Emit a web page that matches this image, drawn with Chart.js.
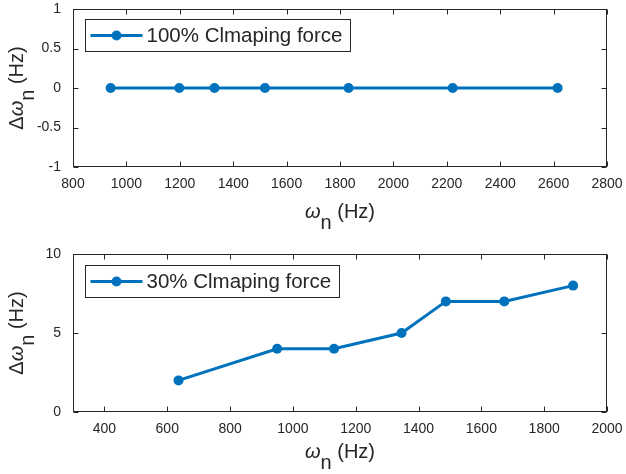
<!DOCTYPE html>
<html>
<head>
<meta charset="utf-8">
<script src="https://cdn.jsdelivr.net/npm/chart.js@4/dist/chart.umd.min.js"></script>
<style>
  body { margin: 0; background: #fff; }
  canvas { position: absolute; left: 0; }
</style>
</head>
<body>
<canvas id="chart" width="626" height="237" style="top:0"></canvas>
<canvas id="chart2" width="626" height="237" style="top:237px"></canvas>
<script>
// measured natural frequencies and their shift
var fullFreq = [941, 1198, 1330, 1519, 1832, 2222, 2615];
var fullShift = [0, 0, 0, 0, 0, 0, 0];
var fullLabel = "100% Clmaping force";
var fullXTicks = [800, 1000, 1200, 1400, 1600, 1800, 2000, 2200, 2400, 2600, 2800];
var fullYTicks = [-1, -0.5, 0, 0.5, 1];

var lowFreq = [636, 950, 1131, 1346, 1487, 1673, 1892];
var lowShift = [2, 4, 4, 5, 7, 7, 8];
var lowLabel = "30% Clmaping force";
var lowXTicks = [400, 600, 800, 1000, 1200, 1400, 1600, 1800, 2000];
var lowYTicks = [0, 5, 10];

var FONT = "'Liberation Sans', Arial, Helvetica, sans-serif";
var INK = "#262626";
var BLUE = "#0072BD";

// frame + inward ticks on every side
var boxPlugin = {
  id: "box",
  beforeDatasetsDraw: function (chart) {
    var a = chart.chartArea, c = chart.ctx;
    var sx = chart.scales.x, sy = chart.scales.y;
    var L = Math.round(a.left) + 0.5, R = Math.round(a.right) - 0.5;
    var T = Math.round(a.top) + 0.5, B = Math.round(a.bottom) - 0.5;
    c.save();
    c.strokeStyle = INK;
    c.lineWidth = 1;
    c.strokeRect(L, T, R - L, B - T);
    c.beginPath();
    sx.ticks.forEach(function (t) {
      var px = Math.round(sx.getPixelForValue(t.value)) + 0.5;
      c.moveTo(px, B); c.lineTo(px, B - 5);
      c.moveTo(px, T); c.lineTo(px, T + 5);
    });
    sy.ticks.forEach(function (t) {
      var py = Math.round(sy.getPixelForValue(t.value)) + 0.5;
      c.moveTo(L, py); c.lineTo(L + 5, py);
      c.moveTo(R, py); c.lineTo(R - 5, py);
    });
    c.stroke();
    c.restore();
  }
};

// text pieces with italic / subscript
function drawParts(c, parts, size) {
  var total = 0;
  parts.forEach(function (p) {
    p.font = (p.italic ? "italic " : "") + size + "px " + FONT;
    c.font = p.font;
    p.w = c.measureText(p.t).width;
    total += p.w;
  });
  var x = -total / 2;
  c.fillStyle = INK;
  c.textBaseline = "alphabetic";
  c.textAlign = "left";
  parts.forEach(function (p) {
    c.font = p.font;
    c.fillText(p.t, x, p.sub ? size * 0.55 : 0);
    x += p.w;
  });
}

var titlePlugin = {
  id: "titles",
  afterDraw: function (chart, args, opts) {
    var a = chart.chartArea, c = chart.ctx;
    c.save();
    c.translate((a.left + a.right) / 2, a.bottom + opts.xOffset);
    drawParts(c, [{ t: "ω", italic: true }, { t: "n", sub: true }, { t: " (Hz)" }], 20);
    c.restore();
    c.save();
    c.translate(23, (a.top + a.bottom) / 2);
    c.rotate(-Math.PI / 2);
    drawParts(c, [{ t: "Δ" }, { t: "ω", italic: true }, { t: "n", sub: true }, { t: " (Hz)" }], 20);
    c.restore();
  }
};

// legend box in the upper-left corner of the axes
var legendPlugin = {
  id: "boxLegend",
  afterDraw: function (chart, args, opts) {
    var a = chart.chartArea, c = chart.ctx;
    var ds = chart.data.datasets[0];
    c.save();
    c.font = "20.5px " + FONT;
    var tw = c.measureText(ds.label).width;
    var x = Math.round(a.left + opts.left) + 0.5, y = Math.round(a.top + opts.top) + 0.5;
    var w = Math.round(61 + tw + 8), h = 32;
    c.fillStyle = "#fff";
    c.fillRect(x, y, w, h);
    c.strokeStyle = INK;
    c.lineWidth = 1;
    c.strokeRect(x, y, w, h);
    var my = y + h / 2;
    c.strokeStyle = ds.borderColor;
    c.lineWidth = ds.borderWidth;
    c.beginPath();
    c.moveTo(x + 5, my); c.lineTo(x + 57, my);
    c.stroke();
    c.fillStyle = ds.pointBackgroundColor;
    c.beginPath();
    c.arc(x + 31, my, ds.pointRadius, 0, Math.PI * 2);
    c.fill();
    c.fillStyle = INK;
    c.textBaseline = "middle";
    c.fillText(ds.label, x + 61, my + 1);
    c.restore();
  }
};

function newChart(el, freq, shift, label, xTicks, yTicks, o) {
  var pts = freq.map(function (f, i) { return { x: f, y: shift[i] }; });
  var tickFont = { family: FONT, size: 14 };
  return new Chart(el, {
    type: "line",
    data: {
      datasets: [{
        label: label,
        data: pts,
        borderColor: BLUE,
        backgroundColor: BLUE,
        pointBackgroundColor: BLUE,
        borderWidth: 3,
        pointRadius: 5,
        pointBorderWidth: 0,
        tension: 0
      }]
    },
    options: {
      responsive: false,
      animation: false,
      layout: { padding: { top: o.top, right: 19, bottom: 0, left: 0 } },
      plugins: {
        legend: { display: false },
        tooltip: { enabled: false },
        titles: { xOffset: o.xOffset },
        boxLegend: { left: 12, top: o.legendTop }
      },
      scales: {
        x: {
          type: "linear",
          min: o.xMin,
          max: o.xMax,
          grid: { display: false, drawTicks: false },
          border: { display: false },
          ticks: { color: INK, font: tickFont, padding: 9, maxRotation: 0, callback: function (v) { return String(v); } },
          afterBuildTicks: function (s) { s.ticks = xTicks.map(function (v) { return { value: v }; }); },
          afterFit: function (s) { s.height = o.xHeight; s.paddingLeft = 0; s.paddingRight = 0; }
        },
        y: {
          min: o.yMin,
          max: o.yMax,
          grid: { display: false, drawTicks: false },
          border: { display: false },
          ticks: { color: INK, font: tickFont, padding: 12, callback: function (v) { return String(v); } },
          afterBuildTicks: function (s) { s.ticks = yTicks.map(function (v) { return { value: v }; }); },
          afterFit: function (s) { s.width = 73; s.paddingTop = 0; s.paddingBottom = 0; }
        }
      }
    },
    plugins: [boxPlugin, titlePlugin, legendPlugin]
  });
}

newChart(document.getElementById("chart"), fullFreq, fullShift, fullLabel, fullXTicks, fullYTicks,
  { top: 9, xHeight: 70, xMin: 800, xMax: 2800, yMin: -1, yMax: 1, xOffset: 51, legendTop: 10 });
newChart(document.getElementById("chart2"), lowFreq, lowShift, lowLabel, lowXTicks, lowYTicks,
  { top: 17, xHeight: 62, xMin: 300, xMax: 2000, yMin: 0, yMax: 10, xOffset: 46, legendTop: 11 });
</script>
</body>
</html>
